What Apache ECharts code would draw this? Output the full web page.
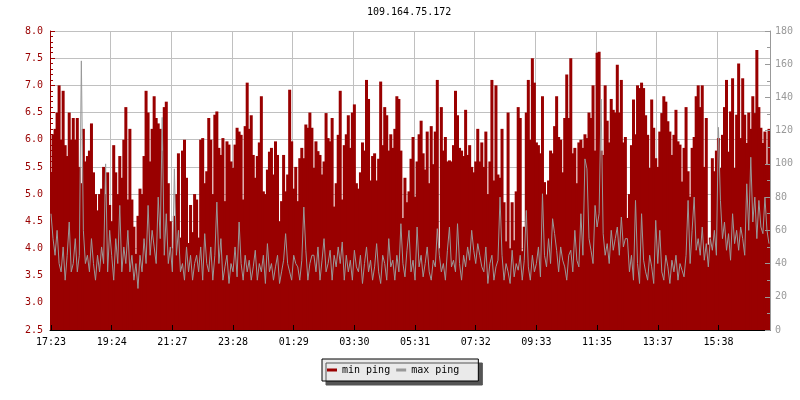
<!DOCTYPE html>
<html><head><meta charset="utf-8">
<script src="https://cdn.jsdelivr.net/npm/echarts@6/dist/echarts.min.js"></script>
<style>html,body{margin:0;padding:0;background:#fff}#c{width:800px;height:400px}</style>
</head><body><div id="c"></div>
<script>
const chartTitle = '109.164.75.172';
const seriesNames = ['min ping', 'max ping'];
const tickLabels = ['17:23','19:24','21:27','23:28','01:29','03:30','05:31','07:32','09:33','11:35','13:37','15:38'];
const tickStep = 30;
const leftTicks = { min: 2.5, max: 8.0, interval: 0.5 };
const rightTicks = { min: 0, max: 180, interval: 20 };

// min ping (ms, left axis)
const minPing = [
 5.4,6.1,6.2,6.5,7.0,6.0, 6.9,5.9,5.7,6.5,6.0,6.4, 6.0,6.4,5.5,5.2,6.2,5.6, 5.7,5.8,6.3,5.4,5.0,4.7,
 5.0,5.1,5.5,5.0,5.4,4.8, 4.5,5.9,5.4,5.0,5.7,5.3, 6.0,6.6,4.9,6.2,4.9,4.4, 3.9,4.6,5.1,5.0,5.7,6.9,
 6.5,5.6,6.2,6.8,6.4,6.3, 6.2,5.8,6.6,6.7,5.2,4.5, 4.0,4.6,5.0,5.75,4.2,5.8, 6.0,5.3,4.1,4.8,4.3,5.0,
 4.9,4.2,6.0,6.03,5.2,5.42,6.4,6.0,5.0,6.46, 6.52,5.85,5.72,6.03,4.87,5.97,5.91,5.6,5.48,5.91,
 6.22,6.15,6.09,4.9,6.25,7.05,6.2,6.45,5.72,5.3, 5.7,5.95,6.8,5.05,5.0,5.45,5.78,5.85,5.36,5.97,
 5.72,4.5,4.87,5.72,5.05,5.36,6.92,5.97,5.1,5.5, 4.87,5.66,5.85,5.66,6.28,6.22,6.5,6.22,5.48,5.97,
 5.79,5.72,5.36,5.6,6.49,6.03,5.97,6.4,4.77,5.2, 6.09,
 6.9,4.9,5.9,6.1,6.45,5.85,6.5,6.65,5.2,5.1, 5.4,5.95,5.8,7.1,6.75,5.25,5.7,5.75,5.25,5.65,
 7.07,5.9,6.6,6.45,5.8,6.1,5.85,6.2,6.8,6.75, 5.8,4.56,5.3,4.85,5.05,5.65,6.05,4.95,5.6,6.1,
 6.35,5.75,5.45,6.15,5.2,6.25,5.55,6.15,7.1,4.0, 6.6,5.8,6.05,5.6,5.62,5.6,5.9,6.9,6.45,5.85,
 5.8,5.7,6.55,5.72,5.9,5.5,5.4,5.6,6.2,5.6, 5.95,
 5.5,6.15,5.0,5.6,7.1,5.25,7.0,5.36,5.3,6.2, 4.85,4.13,6.5,4.0,4.85,4.15,5.05,6.6,6.4,3.95,
 4.4,6.5,7.1,6.0,7.5,7.05,5.95,5.9,5.75,6.8, 5.22,4.99,5.25,5.8,5.75,6.25,6.8,6.05,6.0,5.4,
 6.4,7.2,6.4,7.5,5.75,5.85,5.2,5.95,6.0,5.85, 6.1,6.03,6.5,6.4,7.0,5.8,7.6,7.62,5.8,5.72,
 7.0,6.35,5.95,6.75,6.55,6.5,7.38,6.5,7.1,5.95, 6.05,
 4.56,5.0,5.9,6.74,6.1,7.0,6.95,7.05,6.95,6.45, 6.09,5.48,6.74,6.22,5.66,5.5,6.15,6.49,6.8,6.7,
 6.34,6.15,5.72,6.09,6.55,5.97,5.91,5.23,5.85,6.6, 5.42,4.95,5.85,6.05,6.8,7.0,6.6,7.0,5.5,6.4,
 4.07,4.2,5.66,5.42,5.8,6.03,5.48,6.09,6.6,7.1, 5.78,6.52,7.13,5.48,6.46,7.4,6.03,7.13,6.46,5.94,
 6.5,6.2,6.8,6.49,7.65,6.6,6.22,5.94,6.15,5.54, 6.2
];

// max ping (ms, right axis)
const maxPing = [
 70,55,45,60,40,35, 50,30,45,65,35,40, 55,35,45,162,60,40, 45,35,55,40,30,45,
 35,50,40,100,35,60, 45,30,55,40,75,35, 50,40,60,35,45,30, 40,25,45,35,55,40,
 75,45,60,50,40,80, 55,128,45,70,40,50, 35,97,45,60,35,40, 30,50,35,45,30,40,
 45,35,50,30,58,40,35,50,30,45, 77,40,55,30,38,45,28,40,35,50, 32,65,40,30,45,35,42,30,38,48,
 30,40,35,45,28,52,35,40,30,38, 45,28,35,42,58,40,35,30,45,40, 38,30,42,74,48,30,40,45,45,35,
 50,30,42,55,35,40,48,30,45,38, 50,
 40,53,30,45,35,42,30,48,38,35, 45,28,40,50,35,42,30,38,52,35, 28,45,40,30,55,38,42,30,45,35,
 64,40,32,48,60,35,42,30,62,38, 45,32,40,50,35,30,42,38,61,45, 35,40,30,48,62,38,42,35,64,40,
 30,45,38,50,42,60,48,40,52,45, 38,
 35,50,28,40,45,30,38,42,80,45, 30,40,35,28,48,32,40,36,45,30, 42,72,38,30,45,35,40,50,32,82,
 45,38,55,40,67,58,48,35,50,42, 38,30,45,48,35,60,42,38,70,45, 103,97,55,48,40,75,62,70,139,58,
 45,52,40,60,48,55,62,45,68,50, 55,
 55,35,45,30,78,40,28,70,42,35, 30,45,38,28,66,40,60,35,30,45, 38,28,42,35,45,30,40,36,32,45,
 78,40,60,80,48,55,45,62,42,52, 38,55,48,60,45,122,78,55,65,48, 58,42,70,52,60,48,62,55,45,88,
 60,104,65,80,55,78,62,58,80,60, 52
];

const categories = minPing.map((_, i) => String(i));
const FONT = "'DejaVu Sans Mono', monospace";
const RED = '#990000', GRAY = '#999999';
const onTick = (i) => i % tickStep === 0;

const chart = echarts.init(document.getElementById('c'), null, { renderer: 'canvas' });
chart.setOption({
  animation: false,
  backgroundColor: '#ffffff',
  title: {
    text: chartTitle, left: 367, top: 7, padding: 0,
    textStyle: { fontFamily: FONT, fontSize: 10, fontWeight: 'normal', color: '#000' }
  },
  legend: {
    data: seriesNames, left: 322, top: 359, orient: 'horizontal',
    padding: [6, 19, 6, 5], itemGap: 6, itemWidth: 10, itemHeight: 3, icon: 'rect',
    backgroundColor: '#eaeaea', borderColor: '#000', borderWidth: 1,
    shadowColor: '#555', shadowBlur: 0, shadowOffsetX: 4, shadowOffsetY: 4,
    textStyle: { fontFamily: FONT, fontSize: 10, color: '#000' }
  },
  grid: { left: 50, right: 30, top: 31, bottom: 70, containLabel: false },
  xAxis: [
    { type: 'category', data: categories, position: 'bottom', boundaryGap: true, z: 0,
      axisLine: { show: false }, axisTick: { show: false }, axisLabel: { show: false },
      splitLine: { show: true, interval: onTick, lineStyle: { color: '#c0c0c0', width: 1 } } },
    { type: 'category', data: categories, position: 'bottom', boundaryGap: true, z: 6,
      axisLine: { show: true, lineStyle: { color: '#000', width: 1 } },
      axisTick: { show: true, inside: true, length: 5, alignWithLabel: true, interval: onTick, lineStyle: { color: '#000' } },
      axisLabel: { show: true, interval: onTick, margin: 7, color: '#000', fontFamily: FONT, fontSize: 10,
        formatter: (v, i) => tickLabels[Math.round(i / tickStep)] },
      splitLine: { show: false } }
  ],
  yAxis: [
    { type: 'value', position: 'left', min: leftTicks.min, max: leftTicks.max, interval: leftTicks.interval,
      axisLine: { show: true, lineStyle: { color: RED } },
      axisTick: { show: true, inside: true, length: 5, lineStyle: { color: RED } },
      minorTick: { show: true, splitNumber: 5, length: 3, lineStyle: { color: RED } },
      axisLabel: { color: RED, fontFamily: FONT, fontSize: 10, margin: 7, formatter: v => v.toFixed(1) },
      splitLine: { show: true, lineStyle: { color: '#c0c0c0', width: 1 } } },
    { type: 'value', position: 'right', min: rightTicks.min, max: rightTicks.max, interval: rightTicks.interval, z: 6,
      axisLine: { show: true, lineStyle: { color: GRAY } },
      axisTick: { show: true, inside: true, length: 5, lineStyle: { color: GRAY } },
      minorTick: { show: true, splitNumber: 2, length: 3, lineStyle: { color: GRAY } },
      axisLabel: { color: GRAY, fontFamily: FONT, fontSize: 10, margin: 5 },
      splitLine: { show: false } }
  ],
  series: [
    { name: seriesNames[0], type: 'bar', xAxisIndex: 0, yAxisIndex: 0, data: minPing,
      barWidth: 3, barGap: '-100%', clip: true, silent: true,
      itemStyle: { color: RED }, emphasis: { disabled: true } },
    { name: seriesNames[1], type: 'line', xAxisIndex: 0, yAxisIndex: 1, data: maxPing,
      showSymbol: false, symbol: 'none', silent: true, clip: true,
      lineStyle: { color: GRAY, width: 1 }, itemStyle: { color: GRAY }, emphasis: { disabled: true } }
  ]
});
</script>
</body></html>
